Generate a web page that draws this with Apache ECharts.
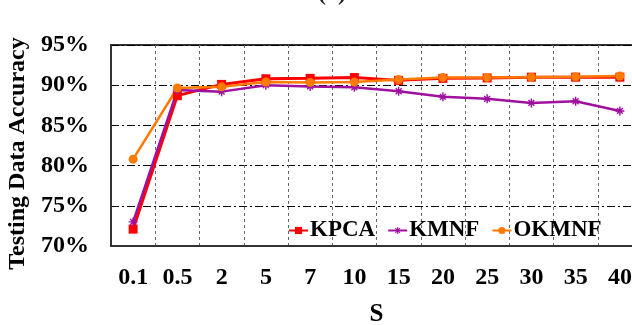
<!DOCTYPE html>
<html>
<head>
<meta charset="utf-8">
<title>Testing Data Accuracy</title>
<script src="https://cdn.jsdelivr.net/npm/echarts@6/dist/echarts.min.js"></script>
<style>
    html, body { margin: 0; padding: 0; background: #fff; }
    #chartMain { width: 632px; height: 325px; }
</style>
</head>
<body>
<div id="chartMain"></div>
<script>
/* data */
var categories = ['0.1', '0.5', '2', '5', '7', '10', '15', '20', '25', '30', '35', '40'];
var kpca  = [72.1, 88.7, 90.1, 90.8, 90.85, 90.95, 90.6, 90.85, 90.9, 91.0, 91.0, 91.0];
var kmnf  = [73.0, 89.4, 89.2, 90.0, 89.85, 89.75, 89.25, 88.55, 88.3, 87.8, 88.0, 86.8];
var okmnf = [80.8, 89.65, 89.8, 90.4, 90.35, 90.4, 90.7, 90.95, 90.95, 91.0, 91.05, 91.15];
var yTicks = [70, 75, 80, 85, 90, 95];

var serif = "'Liberation Serif', 'Times New Roman', serif";
// asterisk marker for KMNF
var starPath = 'path://M0,4.2L10,4.2L10,5.8L0,5.8Z M4.2,0L5.8,0L5.8,10L4.2,10Z ' +
    'M1.2,2.3L2.3,1.2L8.8,7.7L7.7,8.8Z M7.7,1.2L8.8,2.3L2.3,8.8L1.2,7.7Z';

var chart = echarts.init(document.getElementById('chartMain'));

var option = {
    animation: false,
    backgroundColor: '#fff',
    title: {
        text: '(a)',
        left: 327,
        top: -23,
        textAlign: 'center',
        textStyle: { fontFamily: serif, fontSize: 24, fontWeight: 'bold', color: '#222' }
    },
    legend: {
        data: ['KPCA', 'KMNF', 'OKMNF'],
        left: 283,
        top: 214,
        itemWidth: 19,
        itemHeight: 9,
        itemGap: 12,
        textStyle: { fontFamily: serif, fontSize: 23, fontWeight: 'bold', color: '#000', padding: [0, 0, 0, -3] }
    },
    grid: {
        left: 111,
        top: 45,
        width: 531,
        height: 201,
        outerBoundsMode: 'none',   // plot is cut at the right edge, do not shrink it
        show: true,
        borderColor: '#333',
        borderWidth: 2
    },
    xAxis: {
        type: 'category',
        data: categories,
        boundaryGap: true,
        name: 'S',
        nameLocation: 'middle',
        nameGap: 56,
        nameTextStyle: { fontFamily: serif, fontSize: 25, fontWeight: 'bold', color: '#000' },
        axisLine: { lineStyle: { color: '#333', width: 2 } },
        axisTick: { show: false },
        axisLabel: { margin: 20, fontFamily: serif, fontSize: 24, fontWeight: 'bold', color: '#000' },
        splitLine: { show: true, lineStyle: { color: '#666', width: 1, type: [3, 3] } }
    },
    yAxis: {
        type: 'value',
        min: yTicks[0],
        max: yTicks[yTicks.length - 1],
        interval: yTicks[1] - yTicks[0],
        name: 'Testing Data Accuracy',
        nameLocation: 'middle',
        nameGap: 72,
        nameTextStyle: { fontFamily: serif, fontSize: 24, fontWeight: 'bold', color: '#000', padding: [0, 16, 0, 0] },
        axisLine: { show: true, lineStyle: { color: '#333', width: 2 } },
        axisTick: { show: false },
        axisLabel: { margin: 22, formatter: '{value}%', fontFamily: serif, fontSize: 24, fontWeight: 'bold', color: '#000' },
        splitLine: { show: true, lineStyle: { color: '#000', width: 1, type: [8, 3, 2, 3] } }
    },
    series: [
        {
            name: 'KPCA',
            type: 'line',
            data: kpca,
            symbol: 'rect',
            symbolSize: 9,
            color: '#ff0000',
            lineStyle: { width: 3 }
        },
        {
            name: 'KMNF',
            type: 'line',
            data: kmnf,
            symbol: starPath,
            symbolSize: 9,
            color: '#a0109f',
            lineStyle: { width: 2.5 }
        },
        {
            name: 'OKMNF',
            type: 'line',
            data: okmnf,
            symbol: 'circle',
            symbolSize: 9,
            color: '#ff7a00',
            lineStyle: { width: 2.5 }
        }
    ]
};

chart.setOption(option);
</script>
</body>
</html>
